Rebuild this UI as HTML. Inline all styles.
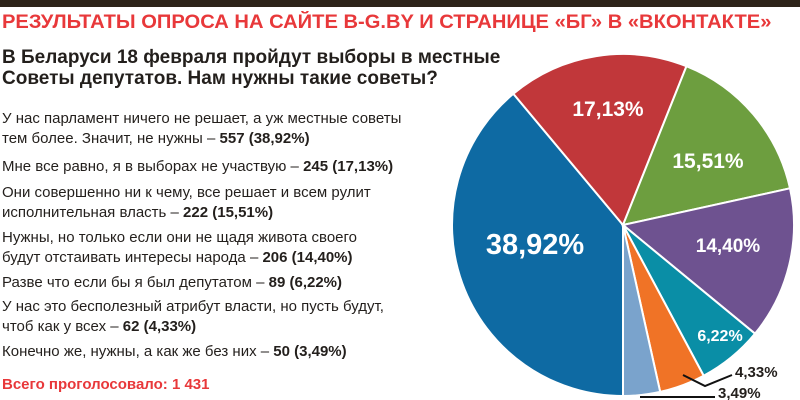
<!DOCTYPE html>
<html><head><meta charset="utf-8"><style>
body{margin:0;width:800px;height:400px;background:#fff;position:relative;overflow:hidden;font-family:"Liberation Sans","DejaVu Sans",sans-serif}
.bar{position:absolute;left:0;top:0;width:800px;height:7px;background:#2e2419}
.t{position:absolute;left:2px;top:12px;color:#e8383a;font-weight:bold;font-size:19px;white-space:nowrap;transform-origin:0 0;transform:scaleX(1.06)}
.q{position:absolute;left:2px;top:47px;color:#231f1c;font-weight:bold;font-size:19px;line-height:21px;white-space:nowrap}
.l{position:absolute;left:2px;color:#231f1c;font-size:15px;line-height:20px;white-space:nowrap}
.l b{font-weight:bold}
.tot{position:absolute;left:2px;top:376px;color:#e8383a;font-weight:bold;font-size:15px}
svg{position:absolute;left:0;top:0}
</style></head><body>
<div class="bar"></div>
<div class="t">РЕЗУЛЬТАТЫ ОПРОСА НА САЙТЕ B-G.BY И СТРАНИЦЕ «БГ» В «ВКОНТАКТЕ»</div>
<div class="q">В Беларуси 18 февраля пройдут выборы в местные<br>Советы депутатов. Нам нужны такие советы?</div>
<div class="l" style="top:109px">У нас парламент ничего не решает, а уж местные советы<br>тем более. Значит, не нужны – <b>557 (38,92%)</b></div>
<div class="l" style="top:157px">Мне все равно, я в выборах не участвую – <b>245 (17,13%)</b></div>
<div class="l" style="top:183px">Они совершенно ни к чему, все решает и всем рулит<br>исполнительная власть – <b>222 (15,51%)</b></div>
<div class="l" style="top:228px">Нужны, но только если они не щадя живота своего<br>будут отстаивать интересы народа – <b>206 (14,40%)</b></div>
<div class="l" style="top:273px">Разве что если бы я был депутатом – <b>89 (6,22%)</b></div>
<div class="l" style="top:297px">У нас это бесполезный атрибут власти, но пусть будут,<br>чтоб как у всех – <b>62 (4,33%)</b></div>
<div class="l" style="top:342px">Конечно же, нужны, а как же без них – <b>50 (3,49%)</b></div>
<div class="tot">Всего проголосовало: 1 431</div>
<svg width="800" height="400" id="s"></svg>
<script>
var cx=623,cy=225,r=171;
var d=[[38.92,"#0e6aa3"],[17.13,"#c1373a"],[15.51,"#6d9e3f"],[14.40,"#6e5290"],[6.22,"#0a8ea6"],[4.33,"#f07326"],[3.49,"#7aa3cc"]];
var a=180,h="";
function p(t,rr){var x=t*Math.PI/180;return [cx+rr*Math.sin(x),cy-rr*Math.cos(x)];}
d.forEach(function(s){var b=a+s[0]*3.6;var p1=p(a,r),p2=p(b,r);
h+='<path d="M'+cx+','+cy+'L'+p1[0]+','+p1[1]+'A'+r+','+r+' 0 '+(b-a>180?1:0)+' 1 '+p2[0]+','+p2[1]+'Z" fill="'+s[1]+'" stroke="#fff" stroke-width="2"/>';a=b;});
var tx=[[535,254,"38,92%",29],[608,116,"17,13%",21],[708,168,"15,51%",21],[728,252,"14,40%",19],[720,341,"6,22%",16]];
tx.forEach(function(t){h+='<text x="'+t[0]+'" y="'+t[1]+'" fill="#fff" font-weight="bold" font-size="'+t[3]+'" text-anchor="middle" font-family="Liberation Sans,sans-serif">'+t[2]+'</text>';});
h+='<polyline points="683,375 705,386 732,375" fill="none" stroke="#111" stroke-width="2"/>';
h+='<line x1="640" y1="397" x2="715" y2="397" stroke="#111" stroke-width="2"/>';
h+='<text x="735" y="377" font-weight="bold" font-size="15" fill="#231f1c" font-family="Liberation Sans,sans-serif">4,33%</text>';
h+='<text x="718" y="398" font-weight="bold" font-size="15" fill="#231f1c" font-family="Liberation Sans,sans-serif">3,49%</text>';
document.getElementById("s").innerHTML=h;
</script>
</body></html>
